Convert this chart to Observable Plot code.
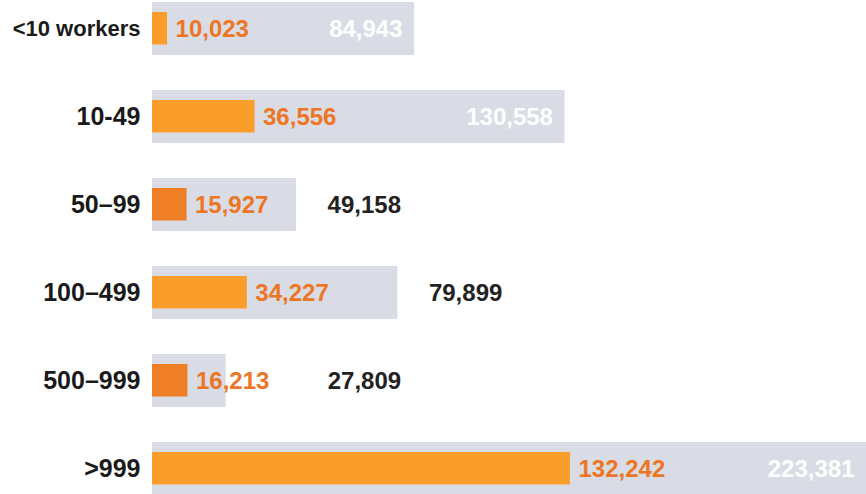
<!DOCTYPE html>
<html>
<head>
<meta charset="utf-8">
<script src="https://cdn.jsdelivr.net/npm/d3@7"></script>
<script src="https://cdn.jsdelivr.net/npm/@observablehq/plot@0.6"></script>
<style>
  html, body { margin: 0; padding: 0; background: #fff; }
  #chart svg { display: block; }
</style>
</head>
<body>
<div id="chart"></div>
<script>
const categories = ["<10 workers", "10-49", "50–99", "100–499", "500–999", ">999"];
const subsetValues = [10023, 36556, 15927, 34227, 16213, 132242];
const totalValues = [84943, 130558, 49158, 79899, 27809, 223381];

const data = categories.map((cat, i) => ({cat, sub: subsetValues[i], total: totalValues[i]}));
const fmt = d3.format(",");
const inside = d => d.total - d.sub > 60000;
const darkRows = new Set(["50–99", "500–999"]);

const font = "'Liberation Sans', Arial, sans-serif";

const chart = Plot.plot({
  width: 866,
  height: 494,
  marginLeft: 152,
  marginRight: 0,
  marginTop: 0,
  marginBottom: 0,
  style: {fontFamily: font, background: "#fff"},
  x: {domain: [5460, 222020], range: [152, 866], clamp: true, axis: null},
  y: {domain: categories, range: [1.5, 495.5], paddingInner: 0.4, paddingOuter: 0, axis: null},
  marks: [
    Plot.barX(data, {y: "cat", x1: 0, x2: "total", fill: "#d9dce4"}),
    Plot.barX(data.filter(d => !darkRows.has(d.cat)), {y: "cat", x1: 0, x2: "sub", fill: "#f99d2b", insetTop: 10, insetBottom: 10.5}),
    Plot.barX(data.filter(d => darkRows.has(d.cat)), {y: "cat", x1: 0, x2: "sub", fill: "#ee7f26", insetTop: 10, insetBottom: 10.5}),
    Plot.text(data, {y: "cat", frameAnchor: "left", dx: -12, textAnchor: "end", text: "cat",
      fontSize: d => d.cat === "<10 workers" ? 22 : 25, fontWeight: "bold", fill: "#1a1a1a"}),
    Plot.text(data, {y: "cat", x: "sub", text: d => fmt(d.sub), dx: 8, textAnchor: "start",
      fontSize: 24, fontWeight: "bold", fill: "#ec7624"}),
    Plot.text(data.filter(inside), {y: "cat", x: "total", text: d => fmt(d.total), dx: -12, textAnchor: "end",
      fontSize: 24, fontWeight: "bold", fill: "#ffffff"}),
    Plot.text(data.filter(d => !inside(d)), {y: "cat", x: d => Math.max(d.total, d.sub + 33000), text: d => fmt(d.total), dx: 31, textAnchor: "start",
      fontSize: 24, fontWeight: "bold", fill: "#222222"})
  ]
});
document.getElementById("chart").append(chart);
</script>
</body>
</html>
